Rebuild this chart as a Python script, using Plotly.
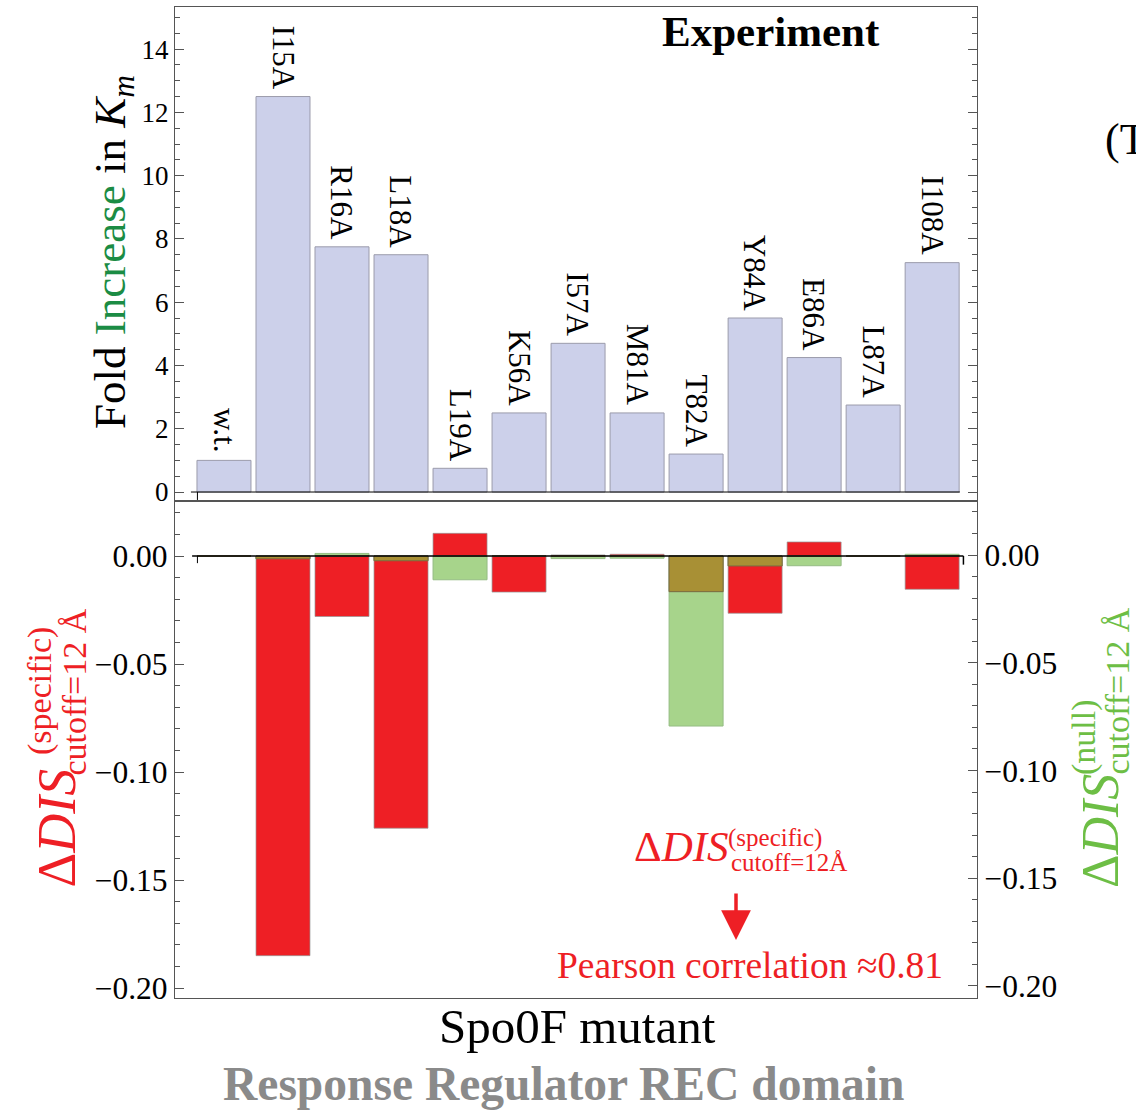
import plotly.graph_objects as go

# ---------------- data ----------------
categories = ["w.t.", "I15A", "R16A", "L18A", "L19A", "K56A", "I57A",
              "M81A", "T82A", "Y84A", "E86A", "L87A", "I108A"]
fold_increase = [1.0, 12.5, 7.75, 7.5, 0.75, 2.5, 4.7, 2.5, 1.2, 5.5, 4.25, 2.75, 7.25]
dis_specific = [0.0, -0.185, -0.028, -0.126, 0.0105, -0.0167, 0.0005, 0.0008,
                -0.0165, -0.0265, 0.0065, 0.0, -0.0154]
dis_null = [0.0, -0.0013, 0.0012, -0.0022, -0.011, 0.0, -0.0012, -0.0010,
            -0.0787, -0.0046, -0.0045, 0.0, 0.0008]

# overlap of the two bars where they share sign (drawn in olive)
overlap = []
for s, n in zip(dis_specific, dis_null):
    if s * n > 0:
        m = min(abs(s), abs(n))
        overlap.append(m if s > 0 else -m)
    else:
        overlap.append(0.0)

FONT = "Liberation Serif"
RED = "#EE1F25"
GREEN_R = "#6DBE45"
GREEN_T = "#1B8C44"
FRAME = "#555555"

W, H = 1136, 1110
L, R, T, B = 175, 159, 7, 112


def px2x(px):
    return (px - L) / (W - L - R)


def py2y(py):
    return (H - B - py) / (H - T - B)


fig = go.Figure()
fig.add_trace(go.Bar(x=categories, y=fold_increase, xaxis="x", yaxis="y", width=0.915,
                     marker=dict(color="#CCD0EA", line=dict(color="#9B9BAB", width=1)),
                     showlegend=False))
fig.add_trace(go.Bar(x=categories, y=dis_null, xaxis="x2", yaxis="y2", width=0.915,
                     marker=dict(color="#A7D48B", line=dict(color="#95BC84", width=1)),
                     showlegend=False))
fig.add_trace(go.Bar(x=categories, y=dis_specific, xaxis="x2", yaxis="y2", width=0.915,
                     marker=dict(color=RED, line=dict(color="rgba(150,150,150,0.7)", width=1)),
                     showlegend=False))
fig.add_trace(go.Bar(x=categories, y=overlap, xaxis="x2", yaxis="y2", width=0.915,
                     marker=dict(color="#A89035", line=dict(color="#7A6F40", width=1)),
                     showlegend=False))
fig.add_trace(go.Scatter(x=categories, y=dis_null, xaxis="x2", yaxis="y3", mode="none",
                         showlegend=False, hoverinfo="skip"))

xr = [-0.83, 12.76]
frame_common = dict(showline=True, linecolor=FRAME, linewidth=1.3, showgrid=False,
                    zeroline=False)
fig.update_layout(
    width=W, height=H,
    margin=dict(l=L, r=R, t=T, b=B, pad=0),
    paper_bgcolor="white", plot_bgcolor="white",
    barmode="overlay",
    font=dict(family=FONT, color="black"),
    xaxis=dict(domain=[0, 1], anchor="y", range=xr, mirror=True, ticks="",
               showticklabels=False, **frame_common),
    yaxis=dict(domain=[0.5015, 1], anchor="x", range=[-0.284, 15.33], tick0=0, dtick=2,
               ticks="inside", ticklen=9, tickwidth=1, tickcolor=FRAME, mirror="ticks",
               minor=dict(dtick=0.5, ticks="inside", ticklen=5, tickcolor=FRAME),
               tickfont=dict(size=27, family=FONT), **frame_common),
    xaxis2=dict(domain=[0, 1], anchor="y2", range=xr, mirror=True, ticks="",
                showticklabels=False, **frame_common),
    yaxis2=dict(domain=[0, 0.5015], anchor="x2", range=[-0.2046, 0.02546], tick0=0,
                dtick=0.05, tickformat=".2f", ticks="inside", ticklen=9, tickwidth=1,
                tickcolor=FRAME,
                minor=dict(dtick=0.01, ticks="inside", ticklen=5, tickcolor=FRAME),
                tickfont=dict(size=31.5, family=FONT), **frame_common),
    yaxis3=dict(overlaying="y2", side="right", anchor="x2", range=[-0.2056, 0.02506],
                tick0=0, dtick=0.05, tickformat=".2f", ticks="inside", ticklen=9,
                tickwidth=1, tickcolor=FRAME,
                minor=dict(dtick=0.01, ticks="inside", ticklen=5, tickcolor=FRAME),
                tickfont=dict(size=31.5, family=FONT), **frame_common),
)

# zero lines with end ticks
shapes = [
    dict(type="line", xref="x", yref="y", x0=-0.56, x1=12.47, y0=0, y1=0,
         line=dict(color="black", width=1)),
    dict(type="line", xref="x", yref="y", x0=-0.45, x1=-0.45, y0=0, y1=-0.25,
         line=dict(color="black", width=1)),
    dict(type="line", xref="x2", yref="y2", x0=-0.54, x1=12.53, y0=0, y1=0,
         line=dict(color="black", width=1.3)),
    dict(type="line", xref="x2", yref="y2", x0=-0.45, x1=-0.45, y0=0, y1=-0.0033,
         line=dict(color="black", width=1)),
    dict(type="line", xref="x2", yref="y2", x0=12.53, x1=12.53, y0=0, y1=-0.004,
         line=dict(color="black", width=1.5)),
]
fig.update_layout(shapes=shapes)

ann = []
# bar labels (rotated)
for c, v in zip(categories, fold_increase):
    ann.append(dict(x=c, y=v, xref="x", yref="y", text=c, textangle=90,
                    xanchor="center", yanchor="bottom", yshift=5, showarrow=False,
                    font=dict(size=31, family=FONT, color="black")))


def pann(px, py, text, size, color="black", angle=0, xanchor="center",
         yanchor="middle"):
    ann.append(dict(x=px2x(px), y=py2y(py), xref="paper", yref="paper", text=text,
                    textangle=angle, xanchor=xanchor, yanchor=yanchor, showarrow=False,
                    font=dict(size=size, family=FONT, color=color)))


# top-left title
pann(113, 252, "Fold <span style='color:%s'>Increase</span> in <i>K</i><sub><i>m</i></sub>" % GREEN_T,
     45, angle=-90)
# Experiment
pann(771, 31, "<b>Experiment</b>", 43)
# (T
pann(1103, 140, "(T", 44, xanchor="left")

# left bottom title
pann(56, 890, "Δ<i>DIS</i>", 54, RED, angle=-90, yanchor="bottom")
pann(40, 757, "(specific)", 34, RED, angle=-90, yanchor="bottom")
pann(74, 777, "cutoff=12 Å", 34, RED, angle=-90, yanchor="bottom")

# right title
pann(1100, 890, "Δ<i>DIS</i>", 52, GREEN_R, angle=-90, yanchor="bottom")
pann(1084, 777, "(null)", 34, GREEN_R, angle=-90, yanchor="bottom")
pann(1117, 777, "cutoff=12 Å", 34, GREEN_R, angle=-90, yanchor="bottom")

# in-plot annotation
pann(632, 846, "Δ<i>DIS</i>", 43, RED, xanchor="left")
pann(726, 838, "(specific)", 25, RED, xanchor="left")
pann(729, 862, "cutoff=12Å", 25, RED, xanchor="left")
ann.append(dict(x=px2x(736), y=py2y(940), xref="paper", yref="paper", text="",
                showarrow=True, ax=0, ay=-48, arrowcolor=RED, arrowwidth=3.5,
                arrowhead=2, arrowsize=1.7, standoff=0))
pann(750, 965, "Pearson correlation ≈0.81", 37.5, RED)

# bottom titles
pann(577, 1026, "Spo0F mutant", 49)
pann(563, 1084, "<b>Response Regulator REC domain</b>", 47.5, "#8A8A8A")

fig.update_layout(annotations=ann)
fig.write_html("out.html")
